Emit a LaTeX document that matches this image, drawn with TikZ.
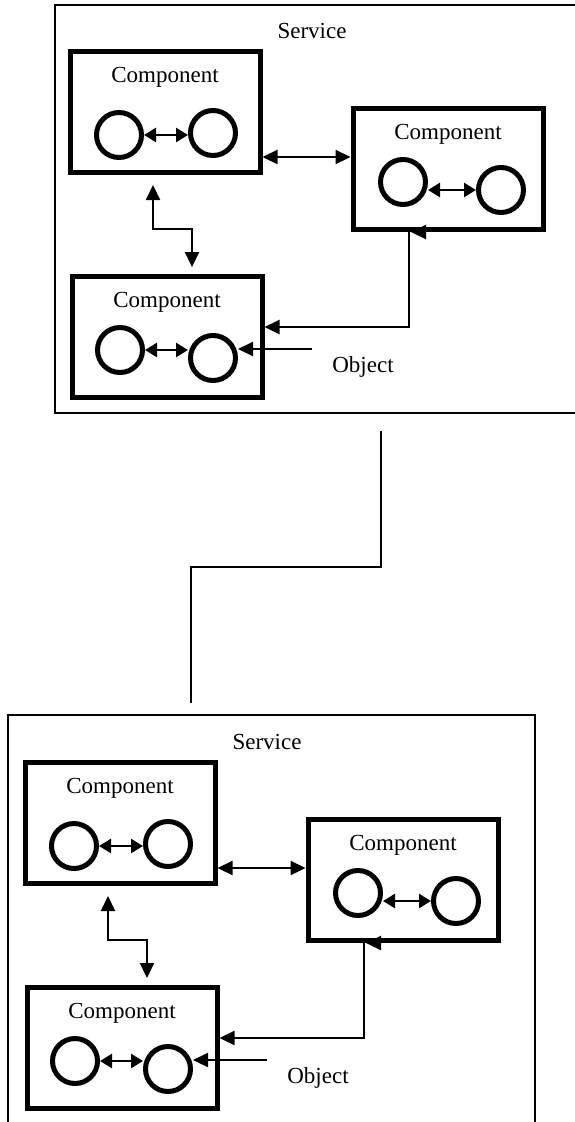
\documentclass[tikz,border=0pt]{standalone}
\usepackage{fontspec}
\setmainfont{Liberation Serif}
\usetikzlibrary{arrows.meta}

\begin{document}
\begin{tikzpicture}[x=1pt, y=-1pt,
    comp/.style={draw, line width=5pt, minimum width=190pt, minimum height=121pt, inner sep=0pt},
    port/.style={draw, circle, line width=5pt, minimum size=45pt, inner sep=0pt},
    lbl/.style={font=\fontsize{23}{27}\selectfont, inner sep=0pt},
    conn/.style={line width=2.2pt, >={Triangle[length=15pt,width=14pt]}},
    link/.style={line width=2.5pt, >={Triangle[length=12pt,width=14pt]}, <->}]

    \useasboundingbox (0,0) rectangle (575,1122);

    %% Service frames
    \draw[line width=1.6pt] (580,5) -- (55,5) -- (55,413) -- (580,413);
    \draw[line width=1.6pt] (8,1126) -- (8,715) -- (535,715) -- (535,1126);

    %% Link between the services
    \coordinate (linkTop) at (381,431);
    \coordinate (linkBot) at (191,703);
    \draw[conn] (linkTop) -- ++(0,136) -| (linkBot);

    \foreach \s/\dx/\dy in {1/0/0, 2/-45/711} {
    \begin{scope}[shift={(\dx,\dy)}]

        \node[lbl] (srv\s) at (312,31) {Service};

        % Components
        \node[comp] (compA\s) at (165,112) {};
        \node[comp] (compB\s) at (448,169) {};
        \node[comp] (compC\s) at (167,337) {};
        \node[lbl] at ([yshift=-28pt]compA\s.north) {Component};
        \node[lbl] at ([yshift=-28pt]compB\s.north) {Component};
        \node[lbl] at ([yshift=-28pt]compC\s.north) {Component};

        % Ports
        \node[port] (pA\s1) at (119,135) {};
        \node[port] (pA\s2) at (213,133) {};
        \node[port] (pB\s1) at (403,182) {};
        \node[port] (pB\s2) at (501,190) {};
        \node[port] (pC\s1) at (120,350) {};
        \node[port] (pC\s2) at (213,358) {};
        \draw[link] (pA\s1.east) -- (pA\s1.east -| pA\s2.west);
        \draw[link] (pB\s2 -| pB\s1.east) -- (pB\s2.west);
        \draw[link] (pC\s1.east) -- (pC\s1.east -| pC\s2.west);

        % Connectors
        \draw[conn, <->] ([yshift=-45pt]compA\s.east) -- ([yshift=-45pt]compA\s.east -| compB\s.west);
        \draw[conn, <->] ([xshift=-12pt,yshift=-10pt]compA\s.south) -- ++(0,44) -| ([xshift=25pt,yshift=7pt]compC\s.north);
        \draw[conn, ->] ([xshift=-39pt]compB\s.south) |- ([yshift=10pt]compC\s.east);
        \draw[conn, ->] ([xshift=-22pt]compB\s.south) -- ([xshift=-37pt]compB\s.south);

        % Object
        \coordinate (in\s) at (312,349);
        \draw[conn, ->] (in\s) -- (in\s -| pC\s2.east);
        \node[lbl] (obj\s) at (363,367) {Object};

    \end{scope}
    }

\end{tikzpicture}
\end{document}
